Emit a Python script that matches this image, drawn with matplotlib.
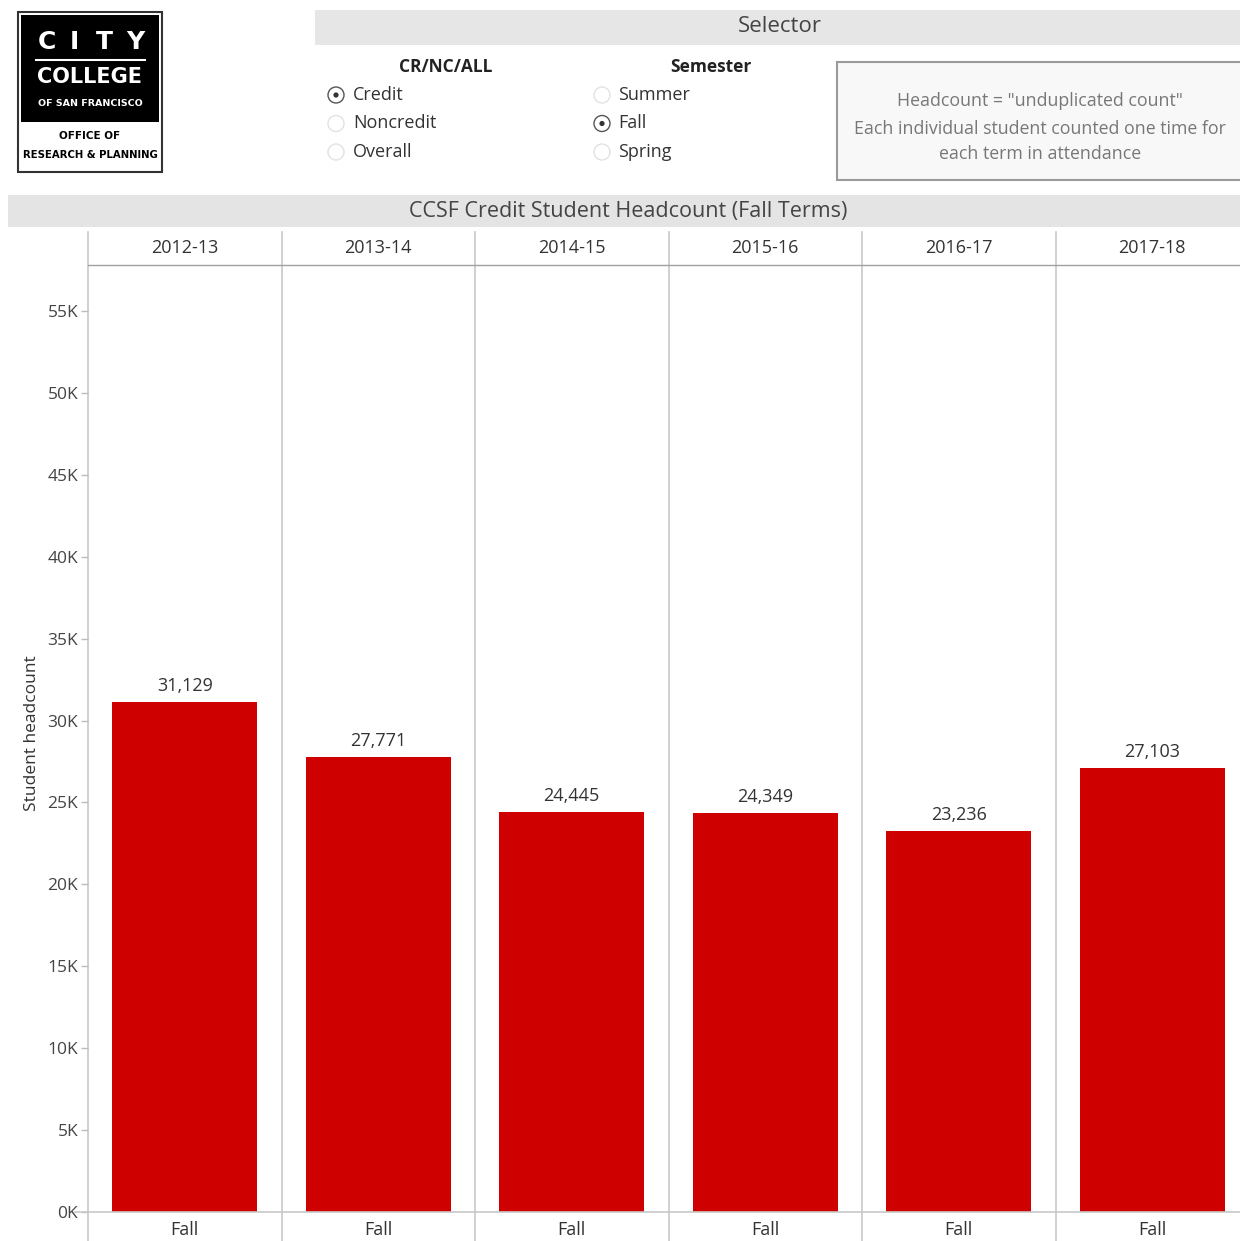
import matplotlib
matplotlib.use("Agg")
import matplotlib.pyplot as plt
from matplotlib.patches import Rectangle, Circle
from matplotlib.lines import Line2D
from matplotlib.ticker import FuncFormatter
import matplotlib.transforms as mtransforms

# ---- data ----
years = ["2012-13", "2013-14", "2014-15", "2015-16", "2016-17", "2017-18"]
term = "Fall"
headcount = [31129, 27771, 24445, 24349, 23236, 27103]
y_ticks = [0, 5000, 10000, 15000, 20000, 25000, 30000, 35000, 40000, 45000, 50000, 55000]
crnc_options = ["Credit", "Noncredit", "Overall"]
semester_options = ["Summer", "Fall", "Spring"]
crnc_selected = "Credit"
semester_selected = "Fall"

W, H = 1240, 1241
DPI = 100
FONT = ["Open Sans", "DejaVu Sans"]
plt.rcParams["font.family"] = FONT

fig = plt.figure(figsize=(W / DPI, H / DPI), dpi=DPI, facecolor="white")


def fx(px):
    return px / W


def fy(py):
    return 1 - py / H


def ftext(px, py, s, **kw):
    kw.setdefault("ha", "center")
    kw.setdefault("va", "center")
    fig.text(fx(px), fy(py), s, **kw)


def frect(x0, y0, x1, y1, **kw):
    fig.patches.append(Rectangle((fx(x0), fy(y1)), fx(x1) - fx(x0), fy(y0) - fy(y1),
                                 transform=fig.transFigure, figure=fig, **kw))


# ---- logo ----
frect(18, 12, 162, 172, facecolor="white", edgecolor="#333333", lw=1.5)
frect(21, 15, 159, 122, facecolor="black", edgecolor="none")
for cx, ch in zip([47, 74, 104, 135], "CITY"):
    ftext(cx, 42, ch, color="white", fontsize=18, fontweight="bold",
          family=["DejaVu Sans"])
fig.lines.append(Line2D([fx(36), fx(145)], [fy(60), fy(60)], color="white", lw=1.5,
                        transform=fig.transFigure))
ftext(90, 77, "COLLEGE", color="white", fontsize=15, fontweight="bold",
      family=["DejaVu Sans"])
ftext(90, 103, "OF SAN FRANCISCO", color="white", fontsize=6.8, fontweight="bold",
      family=["DejaVu Sans"])
ftext(90, 136, "OFFICE OF", color="black", fontsize=7.5, fontweight="bold",
      family=["DejaVu Sans"])
ftext(90, 155, "RESEARCH & PLANNING", color="black", fontsize=7.3, fontweight="bold",
      family=["DejaVu Sans"])

# ---- selector band ----
frect(315, 10, 1240, 45, facecolor="#e6e6e6", edgecolor="none")
ftext(780, 27, "Selector", color="#444444", fontsize=16)

ftext(446, 67, "CR/NC/ALL", color="#222222", fontsize=12.5, fontweight="bold")
ftext(711, 67, "Semester", color="#222222", fontsize=12.5, fontweight="bold")


def radio_group(cx, tx, options, selected):
    for i, opt in enumerate(options):
        yy = 95 + 28.5 * i
        on = opt == selected
        fig.patches.append(Circle((fx(cx), fy(yy)), fx(8), transform=fig.transFigure,
                                  facecolor="white",
                                  edgecolor="#555555" if on else "#e2e2e2",
                                  lw=1.0, figure=fig))
        if on:
            fig.patches.append(Circle((fx(cx), fy(yy)), fx(2.6), transform=fig.transFigure,
                                      facecolor="#333333", edgecolor="none", figure=fig))
        ftext(tx, yy, opt, ha="left", color="#333333", fontsize=13)


radio_group(336, 353, crnc_options, crnc_selected)
radio_group(602, 618, semester_options, semester_selected)

# ---- info box ----
frect(837, 62, 1250, 180, facecolor="#f8f8f8", edgecolor="#9a9a9a", lw=1.5)
ftext(1040, 101, "Headcount = \"unduplicated count\"", color="#777777", fontsize=12.8)
ftext(1040, 129, "Each individual student counted one time for", color="#777777",
      fontsize=12.8)
ftext(1040, 154, "each term in attendance", color="#777777", fontsize=12.8)

# ---- chart title band ----
frect(8, 195, 1240, 227, facecolor="#e4e4e4", edgecolor="none")
ftext(628, 211, "CCSF Credit Student Headcount (Fall Terms)", color="#444444",
      fontsize=15.5)

# ---- chart ----
ax_left, ax_right, ax_top, ax_bottom = 88, 1240, 265, 1212
ax = fig.add_axes([fx(ax_left), fy(ax_bottom), fx(ax_right - ax_left),
                   fy(ax_top) - fy(ax_bottom)])
ax.set_facecolor("white")

panel_px = 193.5
n = len(years)
ax.set_xlim(-0.5, -0.5 + (ax_right - ax_left) / panel_px)
ymax = (ax_bottom - ax_top) / (901 / 55000)
ax.set_ylim(0, ymax)

x = list(range(n))
bars = ax.bar(x, headcount, width=0.75, color="#CF0000", edgecolor="none", zorder=2)
for xi, v in zip(x, headcount):
    ax.annotate(f"{v:,}", (xi, v), xytext=(0, 5), textcoords="offset points",
                ha="center", va="bottom", fontsize=13, color="#333333")

for s in ["left", "right", "bottom"]:
    ax.spines[s].set_visible(False)
ax.spines["top"].set_color("#a0a0a0")
ax.spines["top"].set_linewidth(1.0)

# panel separators
h_ax = ax_bottom - ax_top
sep_lo = (ax_bottom - H) / h_ax
sep_hi = (ax_bottom - 232) / h_ax
for i in range(n + 1):
    ax.axvline(i - 0.5, ymin=sep_lo, ymax=sep_hi, color="#c8c8c8", lw=1.2,
               clip_on=False, zorder=1)

# zero baseline
ax.axhline(0, xmin=-13 / (ax_right - ax_left), xmax=1, color="#c8c8c8", lw=1.2,
           clip_on=False, zorder=3)

# header and footer labels
trans = mtransforms.blended_transform_factory(ax.transData, ax.transAxes)
for xi, yr in zip(x, years):
    ax.text(xi, (ax_bottom - 248) / h_ax, yr, transform=trans, ha="center", va="center",
            fontsize=13, color="#333333", clip_on=False)
    ax.text(xi, (ax_bottom - 1230) / h_ax, term, transform=trans, ha="center",
            va="center", fontsize=13, color="#333333", clip_on=False)

ax.set_xticks([])
ax.set_yticks(y_ticks)
ax.yaxis.set_major_formatter(FuncFormatter(lambda v, p: f"{int(v / 1000)}K"))
ax.tick_params(axis="y", length=5, width=1, color="#bbbbbb", labelsize=12.5,
               labelcolor="#444444", pad=2)
ax.set_ylabel("Student headcount", fontsize=12.5, color="#333333", labelpad=10)
ax.yaxis.set_label_coords(-(ax_left - 40) / (ax_right - ax_left),
                          (ax_bottom - 733) / h_ax)

fig.savefig("out.png", dpi=DPI, facecolor="white")
